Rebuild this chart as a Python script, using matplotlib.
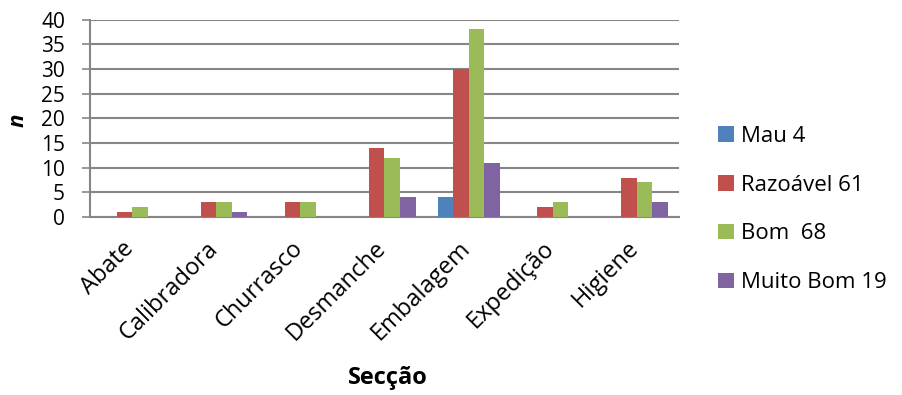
import matplotlib
matplotlib.use("Agg")
import matplotlib.pyplot as plt
from matplotlib.patches import Patch
from matplotlib.transforms import ScaledTranslation
import numpy as np

plt.rcParams['font.family'] = ['Open Sans', 'DejaVu Sans']

categories = ["Abate", "Calibradora", "Churrasco", "Desmanche", "Embalagem", "Expedição", "Higiene"]
series_names = ["Mau 4", "Razoável 61", "Bom  68", "Muito Bom 19"]
mau = [0, 0, 0, 0, 4, 0, 0]
razoavel = [1, 3, 3, 14, 30, 2, 8]
bom = [2, 3, 3, 12, 38, 3, 7]
muito_bom = [0, 1, 0, 4, 11, 0, 3]
colors = ["#4F81BD", "#C0504D", "#9BBB59", "#8064A2"]
yticks = [0, 5, 10, 15, 20, 25, 30, 35, 40]

W, H = 902, 395
fig = plt.figure(figsize=(W / 100, H / 100), dpi=100)
ax = fig.add_axes([90 / W, 1 - 217 / H, (679 - 90) / W, (217 - 19.5) / H])

x = np.arange(len(categories))
w = 0.185
for i, (vals, c) in enumerate(zip([mau, razoavel, bom, muito_bom], colors)):
    ax.bar(x + (i - 1.5) * w, vals, width=w, color=c, zorder=3, linewidth=0)

ax.set_xlim(-0.5, len(categories) - 0.5)
ax.set_ylim(0, 40)
ax.set_yticks(yticks)
ax.set_yticklabels([str(t) for t in yticks], fontsize=15)
ax.yaxis.grid(True, color="#868686", linewidth=1.5, zorder=0)
ax.tick_params(axis='y', length=6, width=1.2, color="#868686", pad=12)
ax.tick_params(axis='x', length=0, pad=4)
for s in ["top", "right"]:
    ax.spines[s].set_visible(False)
for s in ["left", "bottom"]:
    ax.spines[s].set_color("#868686")
    ax.spines[s].set_linewidth(1.5)

ax.set_xticks(x)
ax.set_xticklabels(categories, rotation=45, ha="right", va="top",
                   rotation_mode="anchor", fontsize=17)
shift = ScaledTranslation(-10 / 100, -14 / 100, fig.dpi_scale_trans)
for lab in ax.get_xticklabels():
    lab.set_transform(lab.get_transform() + shift)

fig.text(18 / W, 1 - 120 / H, "n", fontsize=16, fontweight="bold", style="italic",
         rotation=90, ha="center", va="center")
fig.text(388 / W, 1 - 378 / H, "Secção", fontsize=17, fontweight="bold",
         ha="center", va="center")

handles = [Patch(facecolor=c, edgecolor="none") for c in colors]
fig.legend(handles, series_names, loc="center left", bbox_to_anchor=(718 / W, 1 - 209.5 / H),
           frameon=False, fontsize=16, handlelength=0.7, handleheight=0.7,
           labelspacing=1.25, handletextpad=0.35, borderaxespad=0, borderpad=0)

fig.savefig("out.png", dpi=100)
